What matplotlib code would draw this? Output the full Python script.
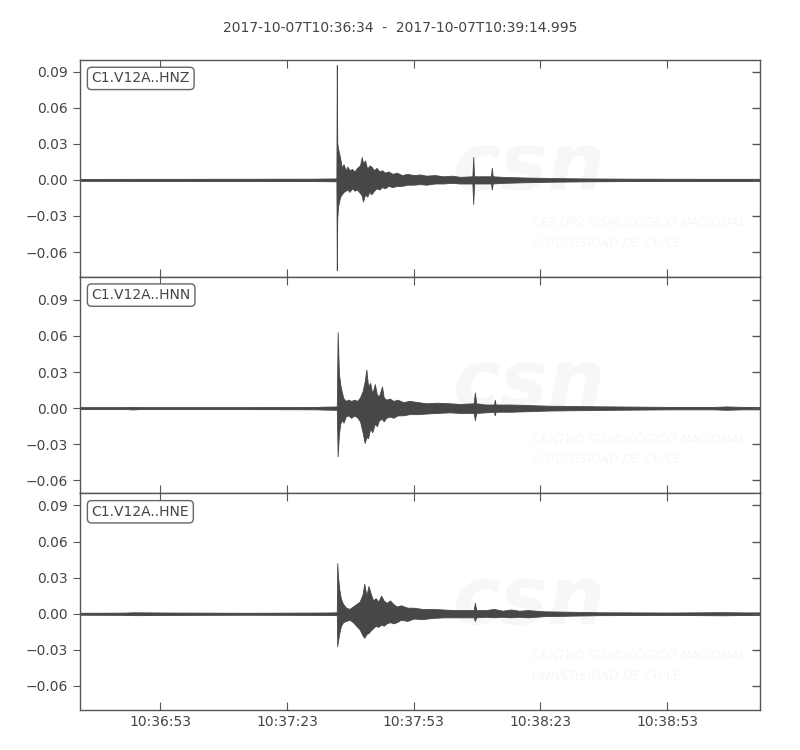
import matplotlib
matplotlib.use("Agg")
import matplotlib.pyplot as plt
import numpy as np

TITLE = "2017-10-07T10:36:34  -  2017-10-07T10:39:14.995"
DURATION = 160.995  # seconds shown on the time axis

x_tick_pos = [19, 49, 79, 109, 139]
x_tick_labels = ["10:36:53", "10:37:23", "10:37:53", "10:38:23", "10:38:53"]
y_ticks = [-0.06, -0.03, 0.00, 0.03, 0.06, 0.09]
y_tick_labels = ["\u22120.06", "\u22120.03", "0.00", "0.03", "0.06", "0.09"]

channels = ["C1.V12A..HNZ", "C1.V12A..HNN", "C1.V12A..HNE"]
y_limits = [(-0.0805, 0.0997), (-0.0708, 0.1092), (-0.0800, 0.1000)]

# envelope of each trace: time (s after 10:36:34), upper, lower
hnz_t = [0, 30, 55, 60.7, 60.8, 60.9, 61.1, 61.6, 62.0, 62.4, 62.9, 63.3, 63.8, 64.4,
         65.0, 65.6, 66.3, 66.7, 67.0, 67.5, 68.0, 68.5, 69.0, 69.6, 70.2, 70.9, 71.5,
         72.2, 73.0, 74.0, 75.0, 76.2, 77.5, 79.0, 80.5, 82.0, 84.0, 86.0, 88.0, 90.0,
         92.9, 93.1, 93.3, 95.0, 97.3, 97.5, 97.7, 100, 105, 112, 120, 130, 145, 161]
hnz_up = [0.0008, 0.0009, 0.0010, 0.0012, 0.0955, 0.031, 0.026, 0.018, 0.010, 0.013,
          0.008, 0.011, 0.008, 0.009, 0.007, 0.010, 0.012, 0.019, 0.014, 0.016, 0.009,
          0.012, 0.011, 0.008, 0.010, 0.007, 0.008, 0.006, 0.007, 0.005, 0.006, 0.004,
          0.005, 0.004, 0.0045, 0.0035, 0.004, 0.003, 0.0035, 0.0025, 0.003, 0.019,
          0.003, 0.003, 0.003, 0.010, 0.003, 0.0025, 0.002, 0.0015, 0.0012, 0.0010,
          0.0009, 0.0009]
hnz_lo = [-0.0008, -0.0009, -0.0010, -0.0012, -0.075, -0.033, -0.022, -0.014, -0.012,
          -0.010, -0.009, -0.008, -0.010, -0.007, -0.009, -0.008, -0.011, -0.013,
          -0.018, -0.012, -0.014, -0.010, -0.012, -0.009, -0.007, -0.008, -0.006,
          -0.007, -0.005, -0.006, -0.005, -0.005, -0.004, -0.004, -0.0035, -0.004,
          -0.003, -0.003, -0.0025, -0.003, -0.003, -0.020, -0.003, -0.003, -0.003,
          -0.008, -0.003, -0.0025, -0.002, -0.0015, -0.0012, -0.0010, -0.0009, -0.0009]

hnn_t = [0, 11, 12.5, 14, 40, 56, 57.5, 60.8, 61.0, 61.3, 61.6, 62.0, 62.4, 62.9, 63.5,
         64.2, 65.0, 65.7, 66.3, 66.9, 67.4, 67.8, 68.2, 68.7, 69.2, 69.8, 70.3, 70.8,
         71.5, 71.9, 72.5, 73.3, 74.2, 75.2, 76.5, 78.0, 80.0, 82.0, 84.5, 87.5, 90.0,
         93.2, 93.5, 93.8, 96.0, 98.0, 98.2, 98.4, 102, 111, 123, 140, 150, 153, 157, 161]
hnn_up = [0.0008, 0.0008, 0.0011, 0.0008, 0.0008, 0.0010, 0.0012, 0.0014, 0.063, 0.029,
          0.020, 0.013, 0.008, 0.006, 0.007, 0.006, 0.007, 0.006, 0.009, 0.014, 0.022,
          0.032, 0.018, 0.021, 0.012, 0.020, 0.011, 0.010, 0.018, 0.009, 0.007, 0.008,
          0.006, 0.007, 0.005, 0.006, 0.005, 0.004, 0.0045, 0.004, 0.0035, 0.004, 0.013,
          0.004, 0.003, 0.003, 0.007, 0.003, 0.003, 0.002, 0.0015, 0.0010, 0.0010,
          0.0014, 0.0010, 0.0010]
hnn_lo = [-0.0008, -0.0008, -0.0011, -0.0008, -0.0008, -0.0010, -0.0012, -0.0014,
          -0.040, -0.022, -0.013, -0.010, -0.012, -0.007, -0.006, -0.008, -0.006,
          -0.008, -0.011, -0.020, -0.029, -0.024, -0.025, -0.017, -0.020, -0.013,
          -0.015, -0.010, -0.009, -0.011, -0.008, -0.007, -0.008, -0.006, -0.006,
          -0.005, -0.005, -0.0045, -0.004, -0.0035, -0.004, -0.004, -0.010, -0.004,
          -0.0035, -0.003, -0.006, -0.003, -0.003, -0.002, -0.0015, -0.0010, -0.0010,
          -0.0014, -0.0010, -0.0010]

hne_t = [0, 10, 13, 20, 40, 58, 60.8, 60.9, 61.1, 61.4, 61.8, 62.3, 63.0, 63.8, 64.6,
         65.4, 66.2, 66.9, 67.3, 67.8, 68.3, 68.8, 69.4, 70.0, 70.6, 71.3, 71.9, 72.6,
         73.4, 74.2, 75.0, 76.0, 77.5, 79.0, 81.0, 83.5, 86.0, 89.0, 93.2, 93.5, 93.8,
         96.0, 98.0, 100, 102, 104, 106, 110, 123, 140, 152, 157, 161]
hne_up = [0.0008, 0.0009, 0.0012, 0.0010, 0.0008, 0.0010, 0.0012, 0.042, 0.030, 0.020,
          0.012, 0.008, 0.005, 0.004, 0.006, 0.008, 0.010, 0.016, 0.025, 0.015, 0.023,
          0.017, 0.011, 0.013, 0.010, 0.015, 0.011, 0.009, 0.011, 0.008, 0.006, 0.007,
          0.005, 0.005, 0.004, 0.004, 0.0035, 0.003, 0.003, 0.009, 0.003, 0.003, 0.004,
          0.0025, 0.0035, 0.0025, 0.003, 0.002, 0.0012, 0.0010, 0.0013, 0.0011, 0.0011]
hne_lo = [-0.0008, -0.0009, -0.0012, -0.0010, -0.0008, -0.0010, -0.0012, -0.027,
          -0.022, -0.016, -0.010, -0.007, -0.006, -0.005, -0.007, -0.010, -0.013,
          -0.018, -0.020, -0.017, -0.016, -0.014, -0.012, -0.010, -0.011, -0.009,
          -0.010, -0.008, -0.007, -0.008, -0.007, -0.005, -0.006, -0.004, -0.0045,
          -0.0035, -0.003, -0.003, -0.003, -0.006, -0.003, -0.0025, -0.003, -0.0025,
          -0.003, -0.0025, -0.003, -0.002, -0.0012, -0.0010, -0.0013, -0.0011, -0.0011]

traces = [(hnz_t, hnz_up, hnz_lo), (hnn_t, hnn_up, hnn_lo), (hne_t, hne_up, hne_lo)]

TRACE_COLOR = "#474747"
FRAME_COLOR = "#555555"
TEXT_COLOR = "#444444"
MARK_COLOR = "#f7f7f7"

fig = plt.figure(figsize=(8, 7.5), dpi=100)
fig.subplots_adjust(left=0.1, right=0.95, top=0.92, bottom=0.0533, hspace=0)
axes = fig.subplots(3, 1, sharex=True)

for ax, name, ylim, (t, up, lo) in zip(axes, channels, y_limits, traces):
    # faint CSN watermark
    ax.text(0.66, 0.50, "csn", transform=ax.transAxes, ha="center", va="center",
            fontsize=58, fontweight="bold", style="italic", color=MARK_COLOR, zorder=0)
    ax.text(0.665, 0.25, "CENTRO SISMOLÓGICO NACIONAL", transform=ax.transAxes,
            ha="left", va="center", fontsize=9, style="italic", color=MARK_COLOR,
            zorder=0, clip_on=True)
    ax.text(0.665, 0.155, "UNIVERSIDAD DE CHILE", transform=ax.transAxes,
            ha="left", va="center", fontsize=9, style="italic", color=MARK_COLOR,
            zorder=0, clip_on=True)

    t = np.asarray(t, dtype=float)
    ax.fill_between(t, lo, up, color=TRACE_COLOR, lw=0.6, edgecolor=TRACE_COLOR, zorder=2)
    ax.plot([t[0], t[-1]], [0, 0], color=TRACE_COLOR, lw=1.0, zorder=2)

    ax.set_xlim(0, DURATION)
    ax.set_ylim(*ylim)
    ax.set_yticks(y_ticks)
    ax.set_yticklabels(y_tick_labels)
    ax.set_xticks(x_tick_pos)
    ax.tick_params(axis="x", direction="in", top=True, length=6, color=FRAME_COLOR,
                   labelcolor=TEXT_COLOR, labelsize=10)
    ax.tick_params(axis="y", direction="out", right=False, length=5, color=FRAME_COLOR,
                   labelcolor=TEXT_COLOR, labelsize=10)
    # inward ticks on the right side
    for yv in y_ticks:
        ax.plot([1.0], [yv], marker=0, markersize=6, color=FRAME_COLOR,
                transform=ax.get_yaxis_transform(), clip_on=False, zorder=5, mew=1.0)
    for sp in ax.spines.values():
        sp.set_color(FRAME_COLOR)
        sp.set_linewidth(1.0)

    ax.text(0.017, 0.915, name, transform=ax.transAxes, ha="left", va="center",
            fontsize=10, color=TEXT_COLOR, zorder=6,
            bbox=dict(boxstyle="round,pad=0.3", fc="white", ec="#666666", lw=1.0))

axes[-1].set_xticklabels(x_tick_labels)
for ax in axes[:-1]:
    ax.tick_params(labelbottom=False)

fig.suptitle(TITLE, y=0.972, fontsize=10, color=TEXT_COLOR)
fig.savefig("out.png", dpi=100)
